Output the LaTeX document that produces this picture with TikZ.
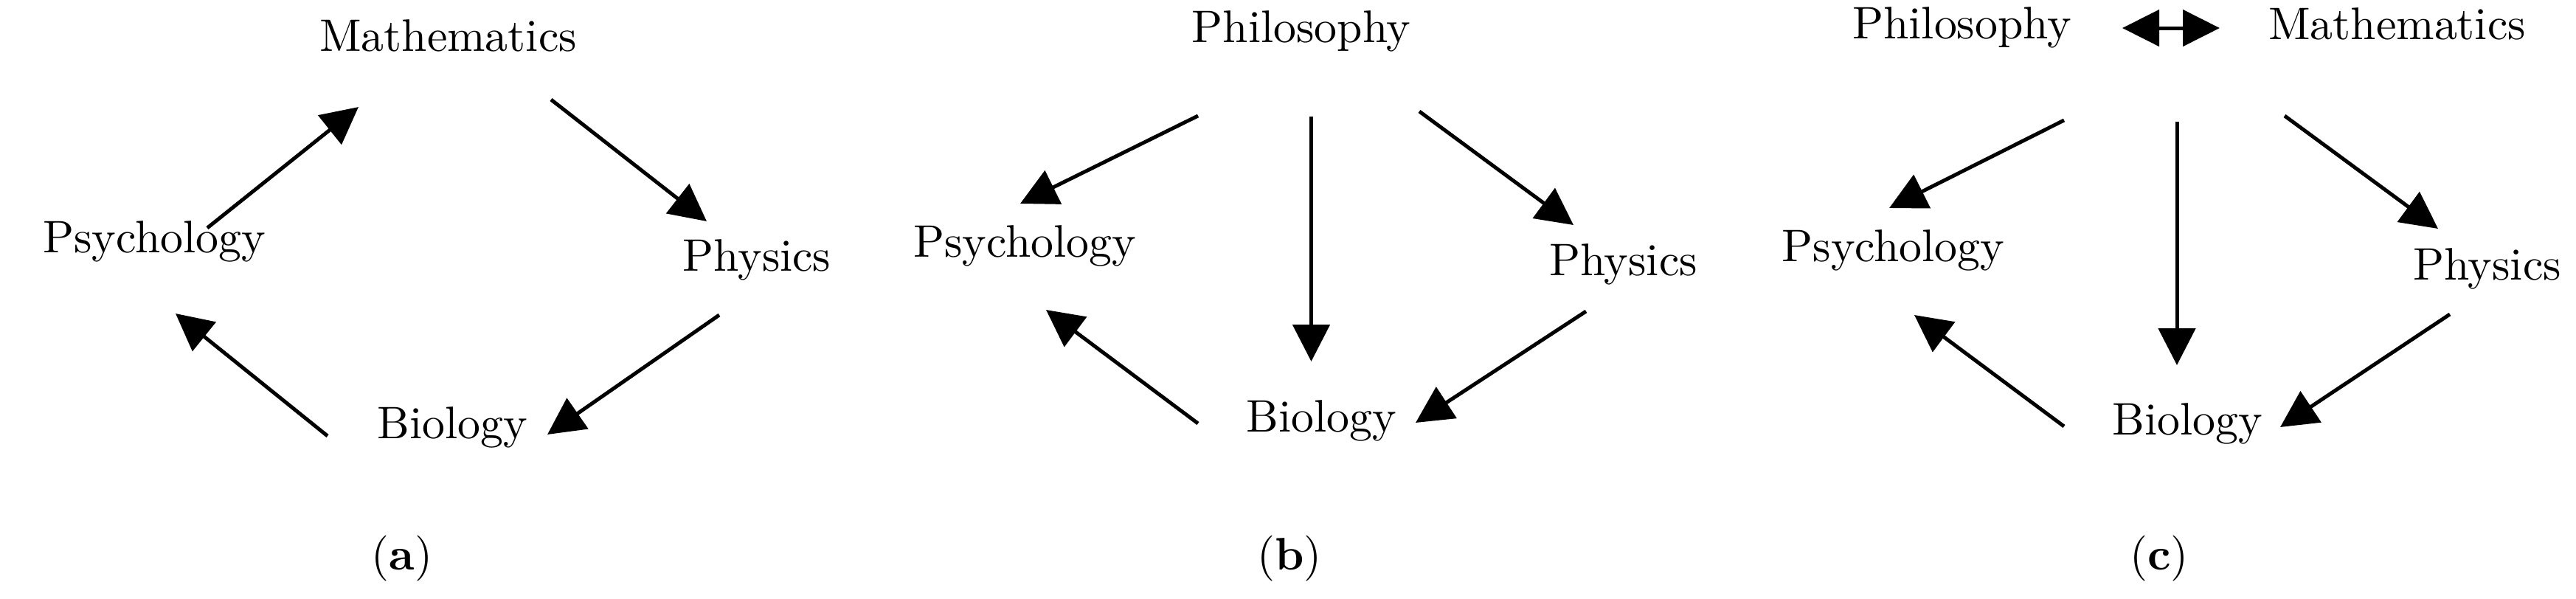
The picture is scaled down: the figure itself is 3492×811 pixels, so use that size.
\documentclass[tikz,border=0pt]{standalone}
\usetikzlibrary{arrows.meta}
\newcommand{\dtxt}[1]{\scalebox{3.09}{#1}}
\begin{document}
\begin{tikzpicture}[x=0.5pt,y=-0.5pt,
  lbl/.style={anchor=base,inner sep=0pt,font=\fontsize{10}{12}\selectfont},
  conn/.style={line width=2.5pt,-{Triangle[length=25pt,width=25pt]}},
  dconn/.style={line width=2.5pt,{Triangle[length=25pt,width=24.5pt]}-{Triangle[length=25pt,width=24.5pt]}}]
\useasboundingbox (0,0) rectangle (3492,811);
% ---------- panel (a)
\node[lbl] (amath) at (607.5,69) {\dtxt{Mathematics}};
\node[lbl] (apsy)  at (209,342) {\dtxt{Psychology}};
\node[lbl] (aphy)  at (1026,367) {\dtxt{Physics}};
\node[lbl] (abio)  at (613.5,594) {\dtxt{Biology}};
\node[lbl] (alab)  at (545,772) {\dtxt{(\textbf{a})}};
\coordinate (a1s) at (281,309);  \coordinate (a1e) at (486,145);
\coordinate (a2s) at (747,135);  \coordinate (a2e) at (958,300);
\coordinate (a3s) at (975,427);  \coordinate (a3e) at (742,589);
\coordinate (a4s) at (444,591);  \coordinate (a4e) at (238,425);
\draw[conn] (a1s) -- (a1e);
\draw[conn] (a2s) -- (a2e);
\draw[conn] (a3s) -- (a3e);
\draw[conn] (a4s) -- (a4e);
% ---------- panel (b)
\node[lbl] (bphil) at (1764,57) {\dtxt{Philosophy}};
\node[lbl] (bpsy)  at (1389,348) {\dtxt{Psychology}};
\node[lbl] (bphy)  at (2200.5,373) {\dtxt{Physics}};
\node[lbl] (bbio)  at (1791,585) {\dtxt{Biology}};
\node[lbl] (blab)  at (1748,772) {\dtxt{(\textbf{b})}};
\coordinate (b1s) at (1624,157); \coordinate (b1e) at (1383,276);
\coordinate (b2s) at (1777.5,158); \coordinate (b2e) at (1777.5,490);
\coordinate (b3s) at (1924,151); \coordinate (b3e) at (2133,305);
\coordinate (b4s) at (2150,422); \coordinate (b4e) at (1919,573);
\coordinate (b5s) at (1624,574); \coordinate (b5e) at (1418,420);
\draw[conn] (b1s) -- (b1e);
\draw[conn] (b2s) -- (b2e);
\draw[conn] (b3s) -- (b3e);
\draw[conn] (b4s) -- (b4e);
\draw[conn] (b5s) -- (b5e);
% ---------- panel (c)
\node[lbl] (cphil) at (2659.5,52) {\dtxt{Philosophy}};
\node[lbl] (cmath) at (3249.5,53) {\dtxt{Mathematics}};
\node[lbl] (cpsy)  at (2566.5,354) {\dtxt{Psychology}};
\node[lbl] (cphy)  at (3371.5,379) {\dtxt{Physics}};
\node[lbl] (cbio)  at (2965,589) {\dtxt{Biology}};
\node[lbl] (clab)  at (2927,772) {\dtxt{(\textbf{c})}};
\coordinate (c0s) at (2877,38);  \coordinate (c0e) at (3009,38);
\coordinate (c1s) at (2798,163); \coordinate (c1e) at (2561,282);
\coordinate (c2s) at (2951,165); \coordinate (c2e) at (2951,495);
\coordinate (c3s) at (3097,157); \coordinate (c3e) at (3305,310);
\coordinate (c4s) at (3321,426); \coordinate (c4e) at (3091,579);
\coordinate (c5s) at (2798,578); \coordinate (c5e) at (2595,427);
\draw[dconn] (c0s) -- (c0e);
\draw[conn] (c1s) -- (c1e);
\draw[conn] (c2s) -- (c2e);
\draw[conn] (c3s) -- (c3e);
\draw[conn] (c4s) -- (c4e);
\draw[conn] (c5s) -- (c5e);
\end{tikzpicture}
\end{document}
